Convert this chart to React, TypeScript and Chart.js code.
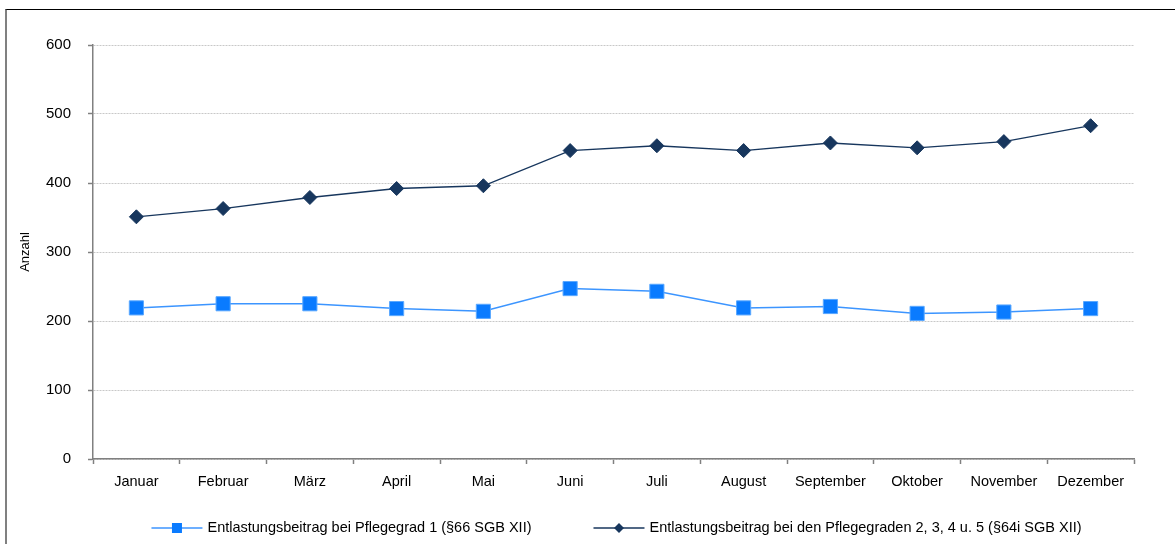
import React, { useEffect, useRef } from "react";
import { Chart, registerables } from "chart.js";

Chart.register(...registerables);

const FONT = "'Liberation Sans', Arial, sans-serif";

const months = [
  "Januar", "Februar", "März", "April", "Mai", "Juni",
  "Juli", "August", "September", "Oktober", "November", "Dezember",
];
const pflegegrad1 = [219, 225, 225, 218, 214, 247, 243, 219, 221, 211, 213, 218];
const pflegegrade2bis5 = [351, 363, 379, 392, 396, 447, 454, 447, 458, 451, 460, 483];
const yTickValues = [0, 100, 200, 300, 400, 500, 600];
const seriesLabels = [
  "Entlastungsbeitrag bei Pflegegrad 1 (§66 SGB XII)",
  "Entlastungsbeitrag bei den Pflegegraden 2, 3, 4 u. 5 (§64i SGB XII)",
];
const yTitle = "Anzahl";

const BLUE = "#0a7bff";
const BLUE_LINE = "#3c95ff";
const NAVY = "#17365d";
const AXIS = "#808080";

const lineLegend = {
  id: "lineLegend",
  afterDraw(chart: any) {
    const ctx = chart.ctx as CanvasRenderingContext2D;
    const { left, right } = chart.chartArea;
    ctx.save();
    ctx.font = `14.5px ${FONT}`;
    ctx.textBaseline = "middle";
    const lineLen = 51;
    const textGap = 5;
    const itemGap = 62;
    const ds = chart.data.datasets;
    const widths = ds.map((d: any) => lineLen + textGap + ctx.measureText(d.label).width);
    const total = widths.reduce((a: number, b: number) => a + b, 0) + itemGap * (ds.length - 1);
    let x = (left + right) / 2 + 3 - total / 2;
    const y = 528;
    ds.forEach((d: any, i: number) => {
      ctx.strokeStyle = d.borderColor;
      ctx.lineWidth = 1.5;
      ctx.beginPath();
      ctx.moveTo(x, y);
      ctx.lineTo(x + lineLen, y);
      ctx.stroke();
      const cx = x + lineLen / 2;
      ctx.fillStyle = d.pointBackgroundColor;
      ctx.beginPath();
      if (d.pointStyle === "rect") {
        ctx.rect(cx - 5, y - 5, 10, 10);
      } else {
        ctx.moveTo(cx - 5, y);
        ctx.lineTo(cx, y - 5);
        ctx.lineTo(cx + 5, y);
        ctx.lineTo(cx, y + 5);
        ctx.closePath();
      }
      ctx.fill();
      ctx.fillStyle = "#000";
      ctx.textAlign = "left";
      ctx.fillText(d.label, x + lineLen + textGap, y);
      x += widths[i] + itemGap;
    });
    ctx.restore();
  },
};

export default function App() {
  const ref = useRef<HTMLCanvasElement>(null);

  useEffect(() => {
    Chart.defaults.font.family = FONT;
    Chart.defaults.font.size = 14.5;
    Chart.defaults.color = "#000";
    const chart = new Chart(ref.current as HTMLCanvasElement, {
      type: "line",
      data: {
        labels: months,
        datasets: [
          {
            label: seriesLabels[0],
            data: pflegegrad1,
            borderColor: BLUE_LINE,
            borderWidth: 1.5,
            backgroundColor: BLUE,
            pointStyle: "rect",
            pointRadius: 10,
            pointBackgroundColor: BLUE,
            pointBorderColor: "#5aa8ff",
            pointBorderWidth: 1,
            tension: 0,
          },
          {
            label: seriesLabels[1],
            data: pflegegrade2bis5,
            borderColor: NAVY,
            borderWidth: 1.3,
            backgroundColor: NAVY,
            pointStyle: "rectRot",
            pointRadius: 7,
            pointBackgroundColor: NAVY,
            pointBorderColor: NAVY,
            pointBorderWidth: 1,
            tension: 0,
          },
        ],
      },
      options: {
        responsive: false,
        animation: false,
        devicePixelRatio: 1,
        layout: { padding: { left: 14, top: 45, right: 41, bottom: 45 } },
        plugins: {
          legend: { display: false },
          tooltip: { enabled: false },
        },
        scales: {
          x: {
            offset: true,
            afterFit: (scale: any) => {
              scale.height = 40;
            },
            grid: {
              display: true,
              drawOnChartArea: false,
              drawTicks: true,
              offset: true,
              tickLength: 5,
              tickColor: AXIS,
              tickWidth: 1.5,
            },
            border: { color: AXIS, width: 1.5 },
            ticks: { padding: 9, color: "#000", font: { size: 14.5 }, maxRotation: 0, autoSkip: false },
          },
          y: {
            min: 0,
            max: 600,
            afterFit: (scale: any) => {
              scale.width = 79;
            },
            afterBuildTicks: (scale: any) => {
              scale.ticks = yTickValues.map((v) => ({ value: v }));
            },
            grid: {
              color: "#c8c8c8",
              lineWidth: 1,
              tickLength: 5,
              tickColor: AXIS,
              tickWidth: 1.5,
              tickBorderDash: [],
            },
            border: { color: AXIS, width: 1.5, dash: [2, 1] },
            ticks: { padding: 17, color: "#000", font: { size: 15 } },
            title: {
              display: true,
              text: yTitle,
              color: "#000",
              font: { size: 13 },
              padding: { top: 4, bottom: 0 },
            },
          },
        },
      },
      plugins: [lineLegend],
    } as any);
    return () => chart.destroy();
  }, []);

  return (
    <div
      style={{
        position: "fixed",
        left: 0,
        top: 0,
        width: 1175,
        height: 544,
        background: "#fff",
        overflow: "hidden",
      }}
    >
      <div
        style={{
          position: "absolute",
          left: 5,
          top: 9,
          width: 1400,
          height: 800,
          borderTop: "1px solid #000",
          borderLeft: "2px solid #808080",
          boxSizing: "border-box",
        }}
      />
      <canvas
        ref={ref}
        width={1175}
        height={544}
        style={{ position: "absolute", left: 0, top: 0, width: 1175, height: 544 }}
      />
    </div>
  );
}
